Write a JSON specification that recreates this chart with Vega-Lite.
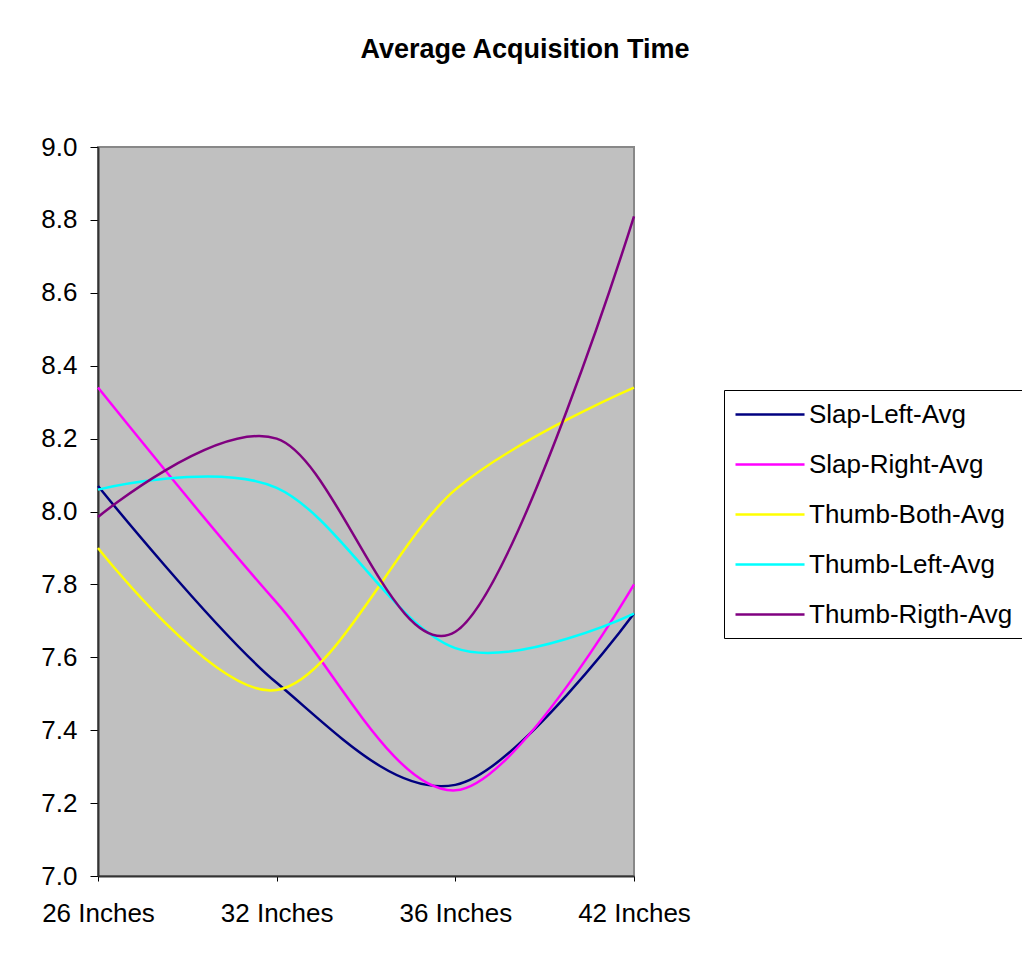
{
  "$schema": "https://vega.github.io/schema/vega-lite/v6.json",
  "autosize": "none",
  "width": 536,
  "height": 729,
  "padding": {"left": 98, "top": 147, "right": 388, "bottom": 84},
  "background": "white",
  "title": {
    "text": "Average Acquisition Time",
    "font": "Liberation Sans",
    "fontSize": 27,
    "fontWeight": "bold",
    "color": "black",
    "anchor": "middle",
    "dx": 159,
    "offset": 70
  },
  "data": {
    "values": [
      {"size": "26 Inches", "series": "Slap-Left-Avg", "value": 8.07},
      {"size": "32 Inches", "series": "Slap-Left-Avg", "value": 7.53},
      {"size": "36 Inches", "series": "Slap-Left-Avg", "value": 7.25},
      {"size": "42 Inches", "series": "Slap-Left-Avg", "value": 7.72},
      {"size": "26 Inches", "series": "Slap-Right-Avg", "value": 8.34},
      {"size": "32 Inches", "series": "Slap-Right-Avg", "value": 7.75},
      {"size": "36 Inches", "series": "Slap-Right-Avg", "value": 7.235},
      {"size": "42 Inches", "series": "Slap-Right-Avg", "value": 7.8},
      {"size": "26 Inches", "series": "Thumb-Both-Avg", "value": 7.9},
      {"size": "32 Inches", "series": "Thumb-Both-Avg", "value": 7.51},
      {"size": "36 Inches", "series": "Thumb-Both-Avg", "value": 8.06},
      {"size": "42 Inches", "series": "Thumb-Both-Avg", "value": 8.34},
      {"size": "26 Inches", "series": "Thumb-Left-Avg", "value": 8.06},
      {"size": "32 Inches", "series": "Thumb-Left-Avg", "value": 8.065},
      {"size": "36 Inches", "series": "Thumb-Left-Avg", "value": 7.625},
      {"size": "42 Inches", "series": "Thumb-Left-Avg", "value": 7.72},
      {"size": "26 Inches", "series": "Thumb-Rigth-Avg", "value": 7.985},
      {"size": "32 Inches", "series": "Thumb-Rigth-Avg", "value": 8.2},
      {"size": "36 Inches", "series": "Thumb-Rigth-Avg", "value": 7.67},
      {"size": "42 Inches", "series": "Thumb-Rigth-Avg", "value": 8.81}
    ]
  },
  "mark": {"type": "line", "interpolate": "cardinal", "strokeWidth": 2.5},
  "encoding": {
    "x": {
      "field": "size",
      "type": "ordinal",
      "sort": ["26 Inches", "32 Inches", "36 Inches", "42 Inches"],
      "scale": {"type": "point", "padding": 0},
      "axis": {
        "title": null,
        "labelAngle": 0,
        "labelFont": "Liberation Sans",
        "labelFontSize": 26,
        "labelColor": "black",
        "labelPadding": 19,
        "tickSize": 5,
        "tickColor": "black",
        "domainColor": "#333333",
        "domainWidth": 2,
        "grid": false
      }
    },
    "y": {
      "field": "value",
      "type": "quantitative",
      "scale": {"domain": [7, 9], "nice": false, "zero": false},
      "axis": {
        "title": null,
        "values": [7.0, 7.2, 7.4, 7.6, 7.8, 8.0, 8.2, 8.4, 8.6, 8.8, 9.0],
        "format": ".1f",
        "labelFont": "Liberation Sans",
        "labelFontSize": 26,
        "labelColor": "black",
        "labelPadding": 13,
        "tickSize": 8,
        "tickColor": "black",
        "domainColor": "#333333",
        "domainWidth": 2,
        "grid": false
      }
    },
    "color": {
      "field": "series",
      "type": "nominal",
      "scale": {
        "domain": ["Slap-Left-Avg", "Slap-Right-Avg", "Thumb-Both-Avg", "Thumb-Left-Avg", "Thumb-Rigth-Avg"],
        "range": ["#000080", "#FF00FF", "#FFFF00", "#00FFFF", "#800080"]
      },
      "legend": {
        "title": null,
        "orient": "none",
        "legendX": 626,
        "legendY": 243,
        "fillColor": "white",
        "strokeColor": "black",
        "padding": 10,
        "symbolType": "M-1,0H4.31",
        "symbolSize": 676,
        "symbolStrokeWidth": 2.5,
        "labelFont": "Liberation Sans",
        "labelFontSize": 26,
        "labelColor": "black",
        "labelLimit": 400,
        "labelOffset": 46,
        "rowPadding": 22
      }
    }
  },
  "config": {
    "view": {"fill": "#C0C0C0", "stroke": "#888888", "strokeWidth": 2}
  }
}
